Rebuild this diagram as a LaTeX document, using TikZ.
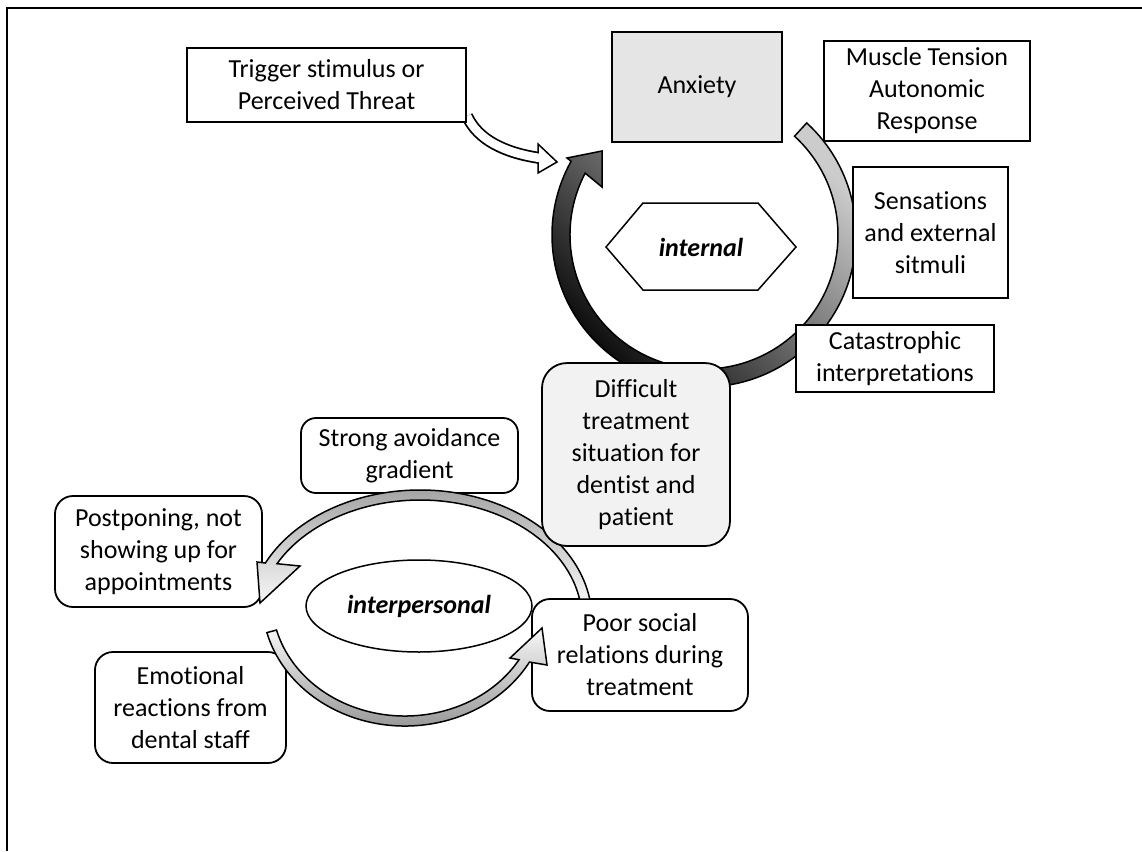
\documentclass[tikz,border=0pt]{standalone}
\usepackage{fontspec}
\setmainfont{Carlito}[Ligatures={NoCommon}]
\usetikzlibrary{shapes.geometric}
\begin{document}
\begin{tikzpicture}[x=1pt,y=1pt,
  base/.style={draw=black, line width=1.8pt, align=center, inner sep=0pt,
    font=\fontsize{26}{32}\selectfont, fill=white},
  sqbox/.style={base},
  rbox/.style={base, rounded corners=18pt},
  bandline/.style={draw=black, line width=1.5pt, line join=miter},
  framel/.style={line width=1.3pt},
]
\useasboundingbox (0,0) rectangle (1142,-851);
% frame
\draw[framel] (7,-851) -- (7,-8) -- (1142,-8);

% white hollow arrow from trigger box
\coordinate (wa1) at (467,-116);
\coordinate (wa2) at (540,-158);
\draw[line width=12pt, black] (wa1) .. controls (478,-140) and (505,-153) .. (wa2);
\node[inner sep=0pt] (wtip) at (557,-162) {};
\draw[bandline, fill=white] (538,-144) -- (wtip.center) -- (538,-173) -- cycle;
\draw[line width=8.5pt, white] (wa1) .. controls (478,-140) and (505,-153) .. (541,-158.2);

% internal cycle (dark circular arrow)
\begin{scope}[shift={(704,-235)}]
\shadedraw[bandline, top color=black!20, bottom color=black, shading angle=-45]
  (47.5:152pt) arc[start angle=47.5, end angle=-209, radius=152pt]
  -- (-137,77) -- (-102,84) -- (-102,48)
  -- (-207.5:134pt) arc[start angle=-207.5, end angle=47.5, radius=134pt] -- cycle;
\end{scope}

% boxes
\node[sqbox, minimum width=279pt, minimum height=74pt] (trig) at (326.5,-85) {Trigger stimulus or\\Perceived Threat};
\node[sqbox, fill=black!10, minimum width=170pt, minimum height=110pt] (anx) at (697,-87) {Anxiety};
\node[sqbox, minimum width=206pt, minimum height=100pt] (mus) at (927,-91) {Muscle Tension\\Autonomic\\Response};
\node[sqbox, minimum width=155pt, minimum height=131pt] (sens) at (930.5,-232.5) {Sensations\\and external\\sitmuli};
\node[sqbox, minimum width=198pt, minimum height=67pt] (cat) at (895,-358.5) {Catastrophic\\interpretations};

\draw[line width=1.5pt, fill=white] (606,-247) -- (643,-203) -- (758,-203) -- (796,-247) -- (758,-290) -- (643,-290) -- cycle;
\node[inner sep=0pt, font=\fontsize{26}{32}\selectfont\bfseries\itshape] (internal) at (701,-247) {internal};

\node[rbox, minimum width=217pt, minimum height=75pt, rounded corners=15pt] (strong) at (409.5,-455.5) {Strong avoidance\\gradient};
\node[rbox, minimum width=207pt, minimum height=111pt] (post) at (158.5,-551.5) {Postponing, not\\showing up for\\appointments};
\node[rbox, minimum width=191pt, minimum height=111pt] (emo) at (190.5,-707.5) {Emotional\\reactions from\\dental staff};
\node[rbox, minimum width=216pt, minimum height=112pt] (poor) at (640,-655) {Poor social\\relations during\\treatment};
\node[base, ellipse, line width=1.5pt, minimum width=226pt, minimum height=92pt] (inter) at (419,-606) {\bfseries\itshape interpersonal};

% interpersonal cycle: upper arc (to Postponing)
\begin{scope}[shift={(420,-620)}]
\shadedraw[bandline, top color=black!38, bottom color=black!3]
  (169.7,21.0) arc[start angle=9.3, end angle=154, x radius=172pt, y radius=130pt]
  -- (-163,58) -- (-160,17) -- (-120,54)
  -- (-143.0,56.3) arc[start angle=152, end angle=10.1, x radius=162pt, y radius=120pt] -- cycle;
\end{scope}
% lower arc (to Poor social relations)
\begin{scope}[shift={(405,-600)}]
\shadedraw[bandline, top color=black!3, bottom color=black!45]
  (-165:143pt and 126pt) arc[start angle=-165, end angle=-29.5, x radius=143pt, y radius=126pt]
  -- (142,-65) -- (137,-28) -- (105,-58)
  -- (-31:133pt and 116pt) arc[start angle=-31, end angle=-165, x radius=133pt, y radius=116pt] -- cycle;
\end{scope}

\node[rbox, fill=black!5, minimum width=188pt, minimum height=183pt, rounded corners=25pt] (diff) at (636,-454.5) {Difficult\\treatment\\situation for\\dentist and\\patient};
\end{tikzpicture}
\end{document}
